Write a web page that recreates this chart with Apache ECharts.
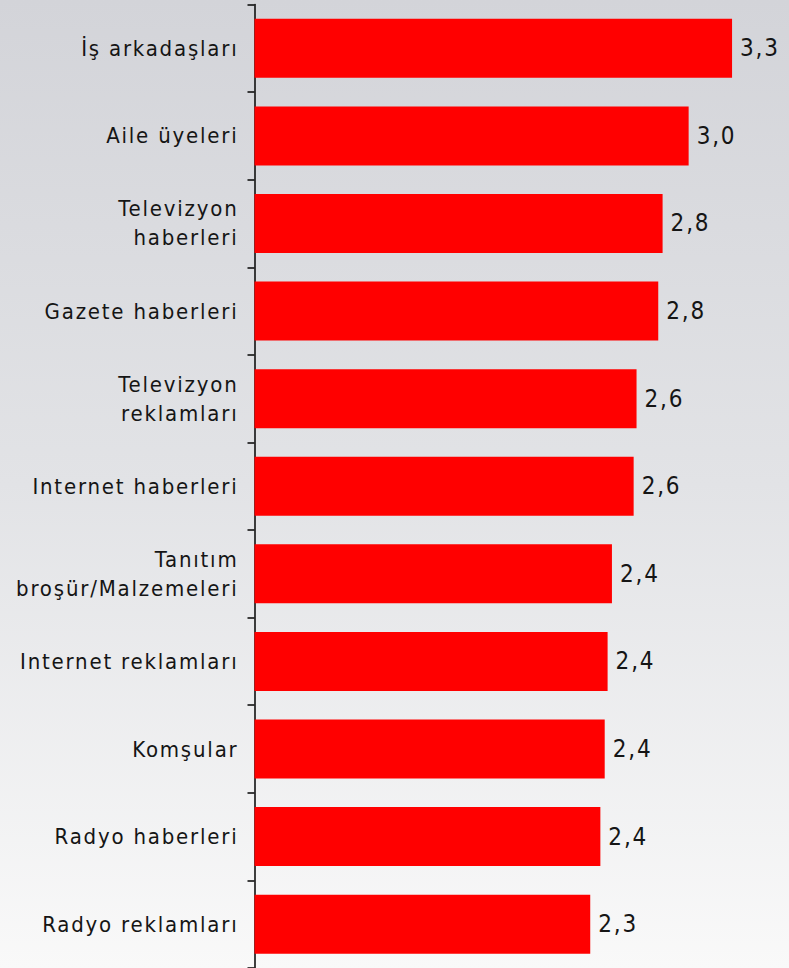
<!DOCTYPE html>
<html>
<head>
<meta charset="utf-8">
<script src="https://cdn.jsdelivr.net/npm/echarts@6/dist/echarts.min.js"></script>
<style>
  html, body { margin: 0; padding: 0; }
  #main {
    width: 789px;
    height: 968px;
    /* gri arka plan, yukarıdan aşağıya açılıyor */
    background: linear-gradient(to bottom, #d3d4d9 0%, #e2e3e6 50%, #f9f9f9 100%);
    letter-spacing: 1.8px;
  }
</style>
</head>
<body>
<div id="main"></div>
<script>
// kategoriler (yukarıdan aşağıya)
const categories = [
  'İş arkadaşları',
  'Aile üyeleri',
  'Televizyon\nhaberleri',
  'Gazete haberleri',
  'Televizyon\nreklamları',
  'Internet haberleri',
  'Tanıtım\nbroşür/Malzemeleri',
  'Internet reklamları',
  'Komşular',
  'Radyo haberleri',
  'Radyo reklamları'
];
// bar uzunlukları
const values = [3.30, 3.00, 2.82, 2.79, 2.64, 2.62, 2.47, 2.44, 2.42, 2.39, 2.32];
// barların yanında yazan etiketler
const valueLabels = ['3,3', '3,0', '2,8', '2,8', '2,6', '2,6', '2,4', '2,4', '2,4', '2,4', '2,3'];

const chart = echarts.init(document.getElementById('main'), null, { renderer: 'svg' });

const option = {
  backgroundColor: 'transparent',
  animation: false,
  grid: {
    left: 254.5,
    top: 4.5,
    right: 28,
    height: 970
  },
  xAxis: {
    type: 'value',
    min: 0,
    max: 3.5,
    show: false
  },
  yAxis: {
    type: 'category',
    data: categories,
    inverse: true,
    axisLine: {
      show: true,
      lineStyle: { color: '#111', width: 1.6 }
    },
    axisTick: {
      show: true,
      inside: false,
      length: 7,
      lineStyle: { color: '#111', width: 1.6 }
    },
    axisLabel: {
      interval: 0,
      margin: 16,
      color: '#151515',
      fontFamily: 'DejaVu Sans Condensed',
      fontSize: 22,
      lineHeight: 29,
      align: 'right'
    },
    splitLine: { show: false }
  },
  series: [
    {
      type: 'bar',
      data: values,
      barWidth: 59,
      itemStyle: { color: '#ff0000' },
      label: {
        show: true,
        position: 'right',
        distance: 8,
        color: '#151515',
        fontFamily: 'DejaVu Sans Condensed',
        fontSize: 24,
        formatter: function (p) {
          return valueLabels[p.dataIndex];
        }
      }
    }
  ]
};

chart.setOption(option);
</script>
</body>
</html>
